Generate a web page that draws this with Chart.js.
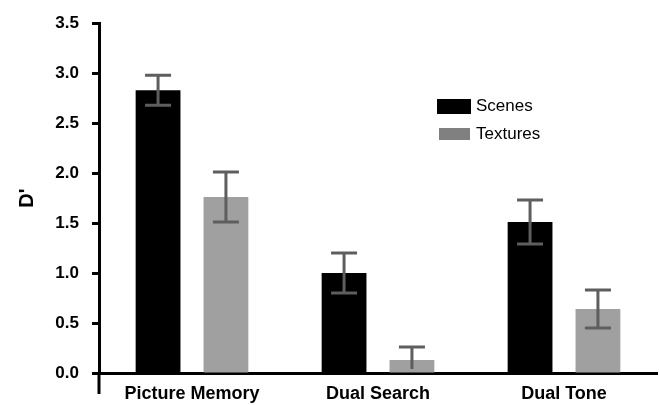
<!DOCTYPE html>
<html>
<head>
<meta charset="utf-8">
<script src="https://cdn.jsdelivr.net/npm/chart.js@4.4.1/dist/chart.umd.min.js"></script>
<style>
  body { margin: 0; background: #fff; }
  #wrap { position: relative; width: 659px; height: 405px; }
  .key { position: absolute; font: 17px "Liberation Sans", Arial, sans-serif; color: #000; }
  .box { position: absolute; }
</style>
</head>
<body>
<div id="wrap">
  <canvas id="chart" width="659" height="405"></canvas>
  <div class="box" style="left:437px;top:99px;width:34px;height:15px;background:#000"></div>
  <div class="key" style="left:476px;top:96px">Scenes</div>
  <div class="box" style="left:439px;top:128px;width:31px;height:12px;background:#808080"></div>
  <div class="key" style="left:476px;top:124px">Textures</div>
</div>
<script>
// datos
const categories = ['Picture Memory', 'Dual Search', 'Dual Tone'];
const scenes = [2.83, 1.0, 1.51];
const textures = [1.76, 0.13, 0.64];
const scenesErr = [0.15, 0.2, 0.22];
const texturesErr = [0.25, 0.13, 0.19];
const yTicks = [0, 0.5, 1, 1.5, 2, 2.5, 3, 3.5];

const fontFam = '"Liberation Sans", Arial, sans-serif';

// barras de error, dibujadas con las escalas del grafico
const errorBars = {
  id: 'errorBars',
  afterDatasetsDraw(chart) {
    const ctx = chart.ctx;
    const y = chart.scales.y;
    const errs = [scenesErr, texturesErr];
    ctx.save();
    ctx.strokeStyle = '#5e5e5e';
    ctx.lineWidth = 3;
    chart.data.datasets.forEach((ds, i) => {
      const meta = chart.getDatasetMeta(i);
      meta.data.forEach((bar, j) => {
        const v = ds.data[j];
        const e = errs[i][j];
        const hi = y.getPixelForValue(v + e);
        const lo = y.getPixelForValue(Math.max(v - e, 0));
        const half = 13;
        ctx.beginPath();
        ctx.moveTo(bar.x, hi);
        ctx.lineTo(bar.x, lo - (v - e <= 0.001 ? 4 : 0));
        ctx.moveTo(bar.x - half, hi);
        ctx.lineTo(bar.x + half, hi);
        if (v - e > 0.001) {
          ctx.moveTo(bar.x - half, lo);
          ctx.lineTo(bar.x + half, lo);
        }
        ctx.stroke();
      });
    });
    ctx.restore();
  },
  afterDraw(chart) {
    // el eje y sigue un poco por debajo del cero
    const ctx = chart.ctx;
    const a = chart.chartArea;
    ctx.save();
    ctx.strokeStyle = '#000';
    ctx.lineWidth = 3;
    ctx.beginPath();
    ctx.moveTo(a.left, a.bottom);
    ctx.lineTo(a.left, a.bottom + 21);
    ctx.stroke();
    ctx.restore();
  }
};

new Chart(document.getElementById('chart'), {
  type: 'bar',
  data: {
    labels: categories,
    datasets: [
      { label: 'Scenes', data: scenes, backgroundColor: '#000000' },
      { label: 'Textures', data: textures, backgroundColor: '#a0a0a0' }
    ]
  },
  options: {
    responsive: false,
    animation: false,
    categoryPercentage: 0.73,
    barPercentage: 0.66,
    layout: { padding: { top: 21, right: 2, left: 0, bottom: 0 } },
    plugins: {
      legend: { display: false },
      tooltip: { enabled: false }
    },
    scales: {
      x: {
        afterFit(scale) { scale.height = 32; },
        grid: { display: false, drawTicks: false },
        border: { color: '#000', width: 3 },
        ticks: {
          color: '#000',
          padding: 10,
          font: { family: fontFam, size: 18, weight: 'bold' }
        }
      },
      y: {
        min: 0,
        max: 3.5,
        afterBuildTicks(scale) {
          scale.ticks = yTicks.map(v => ({ value: v }));
        },
        afterFit(scale) { scale.width = 99; },
        grid: {
          drawOnChartArea: false,
          tickLength: 7,
          tickWidth: 3,
          tickColor: '#000'
        },
        border: { color: '#000', width: 3 },
        ticks: {
          color: '#000',
          padding: 13,
          callback: v => v.toFixed(1),
          font: { family: fontFam, size: 17, weight: 'bold' }
        },
        title: {
          display: true,
          text: "D'",
          color: '#000',
          padding: { top: 15, bottom: 0 },
          font: { family: fontFam, size: 20, weight: 'bold' }
        }
      }
    }
  },
  plugins: [errorBars]
});
</script>
</body>
</html>
